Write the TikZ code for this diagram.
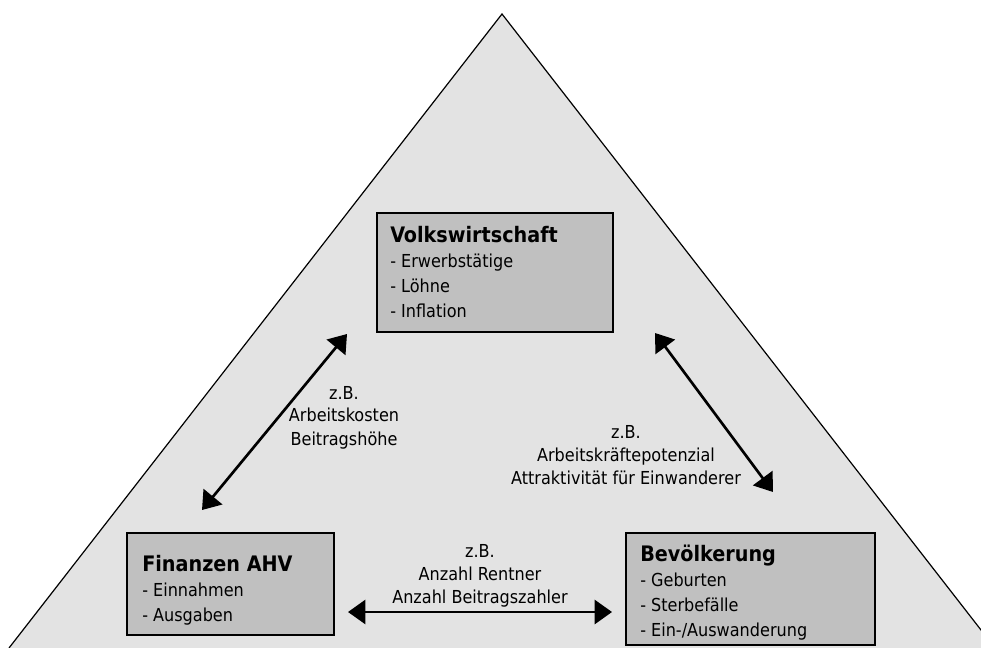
\documentclass[tikz,border=0pt]{standalone}
\usepackage{fontspec}
\setmainfont{DejaVu Sans Condensed}
\usetikzlibrary{arrows.meta,fit}
\definecolor{trigray}{HTML}{E3E3E3}
\definecolor{boxgray}{HTML}{C0C0C0}
\tikzset{
  box/.style={draw=black,line width=1.2pt,fill=boxgray,inner sep=0pt},
  boxtext/.style={anchor=base west,align=left,inner sep=0pt,
    font=\fontsize{13.4}{18.75}\selectfont},
  link/.style={line width=2pt,
    {Triangle[length=13pt,width=18pt]}-{Triangle[length=13pt,width=18pt]}},
  lbl/.style={anchor=base,align=center,inner sep=0pt,
    font=\fontsize{13.4}{17.25}\selectfont}
}
\newcommand{\boxhead}[1]{{\fontsize{16}{18.75}\selectfont\bfseries #1}}

\begin{document}
\begin{tikzpicture}[x=0.75pt,y=-0.75pt]
\useasboundingbox (0,0) rectangle (981,648);
\clip (0,0) rectangle (981,648);
% triangle
\coordinate (apex) at (502,14);
\coordinate (left) at (9,648);
\coordinate (right) at (995,648);
\fill[trigray] (left) -- (apex) -- (right) -- cycle;
\draw[line width=0.9pt] (left) -- (apex) -- (right);

% boxes
\node[box,fit={(377,213) (613,332)}] (vw) {};
\node[box,fit={(127,533) (334,635)}] (fa) {};
\node[box,fit={(626,533) (875,645)}] (bv) {};

\node[boxtext] (vwtext) at (390,318)
  {\boxhead{Volkswirtschaft}\\- Erwerbstätige\\- Löhne\\- Inflation};
\node[boxtext] (fatext) at (142,621)
  {\boxhead{Finanzen AHV}\\- Einnahmen\\- Ausgaben};
\node[boxtext] (bvtext) at (640,636)
  {\boxhead{Bevölkerung}\\- Geburten\\- Sterbefälle\\- Ein-/Auswanderung};

% arrows
\coordinate (la1) at (202,510);
\coordinate (la2) at (347,334);
\coordinate (ra1) at (655,333);
\coordinate (ra2) at (773,492);
\coordinate (ha1) at (348,612);
\coordinate (ha2) at (612,612);
\draw[link] (la1) -- (la2);
\draw[link] (ra1) -- (ra2);
\draw[link] (ha1) -- (ha2);

\node[lbl] (llbl) at (344,445) {z.B.\\Arbeitskosten\\Beitragshöhe};
\node[lbl] (rlbl) at (626,484) {z.B.\\Arbeitskräftepotenzial\\Attraktivität für Einwanderer};
\node[lbl] (hlbl) at (480,603) {z.B.\\Anzahl Rentner\\Anzahl Beitragszahler};
\end{tikzpicture}
\end{document}
